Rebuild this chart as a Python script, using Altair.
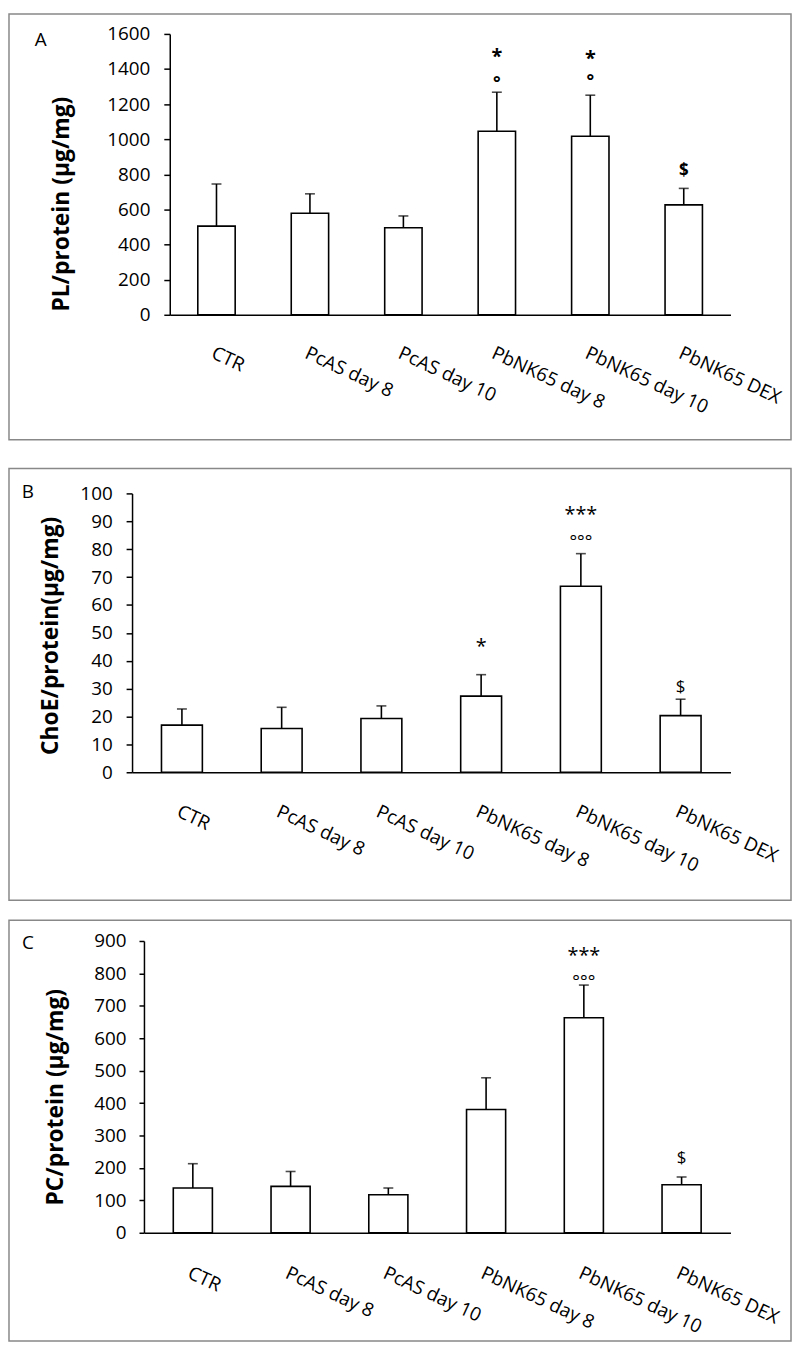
import altair as alt
import pandas as pd

FONT = "Open Sans"

categories = ["CTR", "PcAS day 8", "PcAS day 10", "PbNK65 day 8", "PbNK65 day 10", "PbNK65 DEX"]

# Panel A: PL/protein
pl_mean = [505, 578, 496, 1046, 1017, 626]
pl_err = [240, 111, 67, 222, 234, 94]
pl_ann_cat = ["PbNK65 day 8", "PbNK65 day 8", "PbNK65 day 10", "PbNK65 day 10", "PbNK65 DEX"]
pl_ann_sym = ["*", "°", "*", "°", "$"]
pl_ann_val = [1504, 1347, 1493, 1357, 827]

# Panel B: ChoE/protein
choe_mean = [16.9, 15.7, 19.3, 27.3, 66.7, 20.3]
choe_err = [5.8, 7.6, 4.5, 7.7, 11.7, 5.9]
choe_ann_cat = ["PbNK65 day 8", "PbNK65 day 10", "PbNK65 day 10", "PbNK65 DEX"]
choe_ann_sym = ["*", "***", "°°°", "$"]
choe_ann_val = [47.2, 94.2, 84.3, 31.1]

# Panel C: PC/protein
pc_mean = [138, 143, 117, 380, 663, 148]
pc_err = [75, 46, 21, 98, 101, 24]
pc_ann_cat = ["PbNK65 day 10", "PbNK65 day 10", "PbNK65 DEX"]
pc_ann_sym = ["***", "°°°", "$"]
pc_ann_val = [872, 788, 234]

PLOT_W = 603  # common plot-area width, from x=132 to x=735 on the page


def panel(letter, means, errs, ann_cat, ann_sym, ann_val, ymax, ystep, ytitle,
          axis_in, height, box_y, title_xy, letter_xy, label_pad, tick_size,
          pad_inner, ann_bold, xlabel_pad):
    df = pd.DataFrame({"cat": categories, "mean": means,
                       "top": [m + e for m, e in zip(means, errs)]})
    ann = pd.DataFrame({"cat": ann_cat, "sym": ann_sym, "val": ann_val})
    one = alt.Data(values=[{"k": 1}])

    x_axis = alt.Axis(labelAngle=25, labelAlign="left", labelBaseline="top",
                      labelPadding=xlabel_pad, ticks=False, domainColor="black",
                      domainWidth=1.5, labelFont=FONT, labelFontSize=19,
                      labelColor="black", title=None, grid=False)
    y_axis = alt.Axis(values=list(range(0, ymax + 1, ystep)), format="d", title=ytitle,
                      offset=-axis_in,
                      titleX=title_xy[0], titleY=title_xy[1], titleAngle=270,
                      titleBaseline="middle", titleAlign="center",
                      titleFont=FONT, titleFontSize=23, titleFontWeight="bold",
                      titleColor="black", labelFont=FONT, labelFontSize=19,
                      labelColor="black", labelPadding=label_pad, tickSize=tick_size,
                      tickColor="black", tickWidth=1.5, domainColor="black",
                      domainWidth=1.5, grid=False)
    xs = alt.Scale(range=[axis_in, PLOT_W], paddingInner=pad_inner,
                   paddingOuter=pad_inner / 2)
    ys = alt.Scale(domain=[0, ymax], nice=False)

    def X():
        return alt.X("cat:N", sort=categories, scale=xs, axis=x_axis)

    frame = alt.Chart(one).mark_rect(fill="white", fillOpacity=0, stroke="#888888",
                                     strokeWidth=1.5).encode(
        x=alt.value(-124), x2=alt.value(664), y=alt.value(box_y[0]), y2=alt.value(box_y[1]))

    bars = alt.Chart(df).mark_bar(fill="white", stroke="black", strokeWidth=1.6).encode(
        x=X(), y=alt.Y("mean:Q", scale=ys, axis=y_axis))
    rules = alt.Chart(df).mark_rule(color="black", strokeWidth=1.6).encode(
        x=X(), y=alt.Y("mean:Q", scale=ys, axis=y_axis), y2="top:Q")
    caps = alt.Chart(df).mark_tick(color="black", size=10, thickness=1.6).encode(
        x=X(), y=alt.Y("top:Q", scale=ys, axis=y_axis))

    lab = alt.Chart(one).mark_text(font=FONT, fontSize=19, color="black",
                                    align="center", baseline="middle").encode(
        x=alt.value(letter_xy[0]), y=alt.value(letter_xy[1]), text=alt.value(letter))

    weight = "bold" if ann_bold else "normal"
    layers = [frame, bars, rules, caps, lab]
    for kind, fs, dyk in [("*", 20, 0.6), ("°", 18, 0.6), ("$", 17, 0.36)]:
        t = alt.Chart(ann).transform_filter(
            alt.expr.indexof(alt.datum.sym, kind) >= 0
        ).mark_text(font=FONT, fontSize=fs, fontWeight=weight, color="black",
                    align="center", baseline="alphabetic", dy=fs * dyk).encode(
            x=X(), y=alt.Y("val:Q", scale=ys, axis=y_axis), text="sym:N")
        layers.append(t)

    return alt.layer(*layers).properties(width=PLOT_W, height=height)


# page px: A y-axis at x=170, B at 132, C at 144; every x axis ends at 735
A = panel("A", pl_mean, pl_err, pl_ann_cat, pl_ann_sym, pl_ann_val, 1600, 200,
          "PL/protein (µg/mg)", 38, 283, (-20, 409), (-109, 171),
          (-92, 6), 14, 6, 0.6, True, 29)
B = panel("B", choe_mean, choe_err, choe_ann_cat, choe_ann_sym, choe_ann_val, 100, 10,
          "ChoE/protein(µg/mg)", 0, 281, (-25, 410), (-82, 143),
          (-105, -1), 14, 6, 0.59, False, 30)
C = panel("C", pc_mean, pc_err, pc_ann_cat, pc_ann_sym, pc_ann_val, 900, 100,
          "PC/protein (µg/mg)", 12, 294, (-21, 403), (-89, 157),
          (-105, 2), 13, 5, 0.6, False, 31)

inner = alt.vconcat(B, C, spacing=170, bounds="flush")
chart = alt.vconcat(A, inner, spacing=180, bounds="flush").properties(
    padding=0
).configure_view(stroke=None)

chart.save("out.html", embed_options={"renderer": "svg", "actions": False})
